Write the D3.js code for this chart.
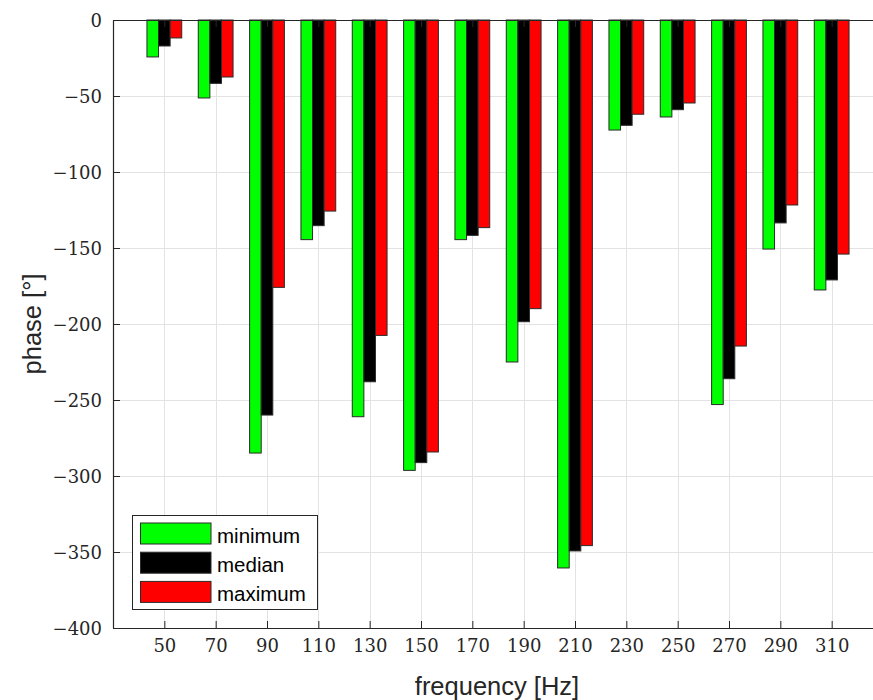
<!DOCTYPE html>
<html>
<head>
<meta charset="utf-8">
<script src="https://cdn.jsdelivr.net/npm/d3@7/dist/d3.min.js"></script>
<style>
  html, body { margin: 0; padding: 0; background: #fff; }
  svg { display: block; }
  .tick text { font-family: "DejaVu Serif", serif; font-size: 18px; }
</style>
</head>
<body>
<svg id="chart" width="873" height="700"></svg>
<script>
// Phase per excitation frequency: minimum / median / maximum
const frequencies = [50, 70, 90, 110, 130, 150, 170, 190, 210, 230, 250, 270, 290, 310];
const minimum = [-24.3, -51.3, -284.9, -144.5, -261, -296.3, -144.5, -225, -360.5, -72.4, -63.8, -253, -150.7, -177.6];
const median  = [-17.1, -41.7, -259.9, -135.3, -238, -291.2, -141.7, -198.5, -349.3, -69.3, -59, -236, -133.5, -171];
const maximum = [-11.8, -37.5, -175.9, -125.7, -207.5, -284.2, -136.6, -189.9, -345.8, -62, -54.6, -214.5, -121.7, -154];
const seriesNames = ["minimum", "median", "maximum"];
const seriesColors = ["#00ff00", "#000000", "#ff0000"];
const yTicks = [0, -50, -100, -150, -200, -250, -300, -350, -400];

const seriesValues = [minimum, median, maximum];

const svg = d3.select("#chart");
const plotLeft = 113, plotTop = 20, plotBottom = 628, plotRight = 883;
const axisColor = "#262626";

const x = d3.scaleLinear().domain([30, 330]).range([plotLeft, plotRight]);
const y = d3.scaleLinear().domain([-400, 0]).range([plotBottom, plotTop]);

// width of one frequency group of bars (in Hz units of the x axis)
const groupHz = 13.55;
const groupPx = x(30 + groupHz) - x(30);
const inner = d3.scaleBand().domain(seriesNames).range([-groupPx / 2, groupPx / 2]);

svg.append("defs").append("clipPath").attr("id", "plotclip")
  .append("rect").attr("x", plotLeft).attr("y", plotTop - 1)
  .attr("width", 873 - plotLeft).attr("height", plotBottom - plotTop + 2);

// grid
const grid = svg.append("g").attr("stroke", "#e3e3e3").attr("stroke-width", 1);
grid.selectAll("line.gx").data(frequencies).join("line")
  .attr("x1", d => Math.round(x(d)) + 0.5).attr("x2", d => Math.round(x(d)) + 0.5)
  .attr("y1", plotTop).attr("y2", plotBottom);
grid.selectAll("line.gy").data(yTicks).join("line")
  .attr("x1", plotLeft).attr("x2", plotRight)
  .attr("y1", d => Math.round(y(d)) + 0.5).attr("y2", d => Math.round(y(d)) + 0.5);

// bars
const barsG = svg.append("g").attr("clip-path", "url(#plotclip)");
seriesNames.forEach((name, si) => {
  const vals = seriesValues[si];
  barsG.append("g").selectAll("rect")
    .data(frequencies.map((f, i) => ({ f, v: vals[i] })))
    .join("rect")
    .attr("x", d => x(d.f) + inner(name))
    .attr("y", y(0))
    .attr("width", inner.bandwidth())
    .attr("height", d => y(d.v) - y(0))
    .attr("fill", seriesColors[si])
    .attr("stroke", "#2b2b2b")
    .attr("stroke-width", 1);
});

// axes (ticks point inward)
const fmt = d => (d < 0 ? "\u2212" + Math.abs(d) : String(d));
const sans = "'Liberation Sans', Arial, Helvetica, sans-serif";

const xAxis = svg.append("g").attr("transform", `translate(0,${plotBottom})`)
  .call(d3.axisBottom(x).tickValues(frequencies).tickSizeInner(-7).tickSizeOuter(0).tickPadding(14).tickFormat(d => d));
const xTop = svg.append("g").attr("transform", `translate(0,${plotTop})`)
  .call(d3.axisTop(x).tickValues(frequencies).tickSizeInner(-7).tickSizeOuter(0).tickFormat(""));
const yAxis = svg.append("g").attr("transform", `translate(${plotLeft},0)`)
  .call(d3.axisLeft(y).tickValues(yTicks).tickSizeInner(-7).tickSizeOuter(0).tickPadding(11).tickFormat(fmt));

[xAxis, xTop, yAxis].forEach(g => {
  g.attr("font-family", null).attr("font-size", null);
  g.select(".domain").attr("stroke", axisColor).attr("stroke-width", 1.2);
  g.selectAll(".tick line").attr("stroke", axisColor).attr("stroke-width", 1);
  g.selectAll(".tick text").attr("fill", "#262626");
});
xAxis.selectAll(".tick text").attr("dy", "0.55em");
yAxis.selectAll(".tick text").attr("dy", "0.35em");

// axis labels
svg.append("text")
  .attr("x", 497).attr("y", 695)
  .attr("text-anchor", "middle")
  .style("font-family", sans).style("font-size", "25.5px").attr("fill", "#262626")
  .text("frequency [Hz]");
svg.append("text")
  .attr("transform", `translate(41,${(plotTop + plotBottom) / 2}) rotate(-90)`)
  .attr("text-anchor", "middle")
  .style("font-family", sans).style("font-size", "25.5px").attr("fill", "#262626")
  .text("phase [°]");

// legend
const lg = svg.append("g");
lg.append("rect").attr("x", 132.5).attr("y", 515.5).attr("width", 185).attr("height", 94)
  .attr("fill", "#fff").attr("stroke", "#262626").attr("stroke-width", 1);
seriesNames.forEach((name, i) => {
  const yy = 523 + i * 29.2;
  lg.append("rect").attr("x", 140.5).attr("y", yy).attr("width", 70.5).attr("height", 21)
    .attr("fill", seriesColors[i]).attr("stroke", "#2b2b2b").attr("stroke-width", 1);
  lg.append("text").attr("x", 217).attr("y", yy + 19.5)
    .style("font-family", sans).style("font-size", "20.5px").attr("fill", "#000")
    .text(name);
});
</script>
</body>
</html>
